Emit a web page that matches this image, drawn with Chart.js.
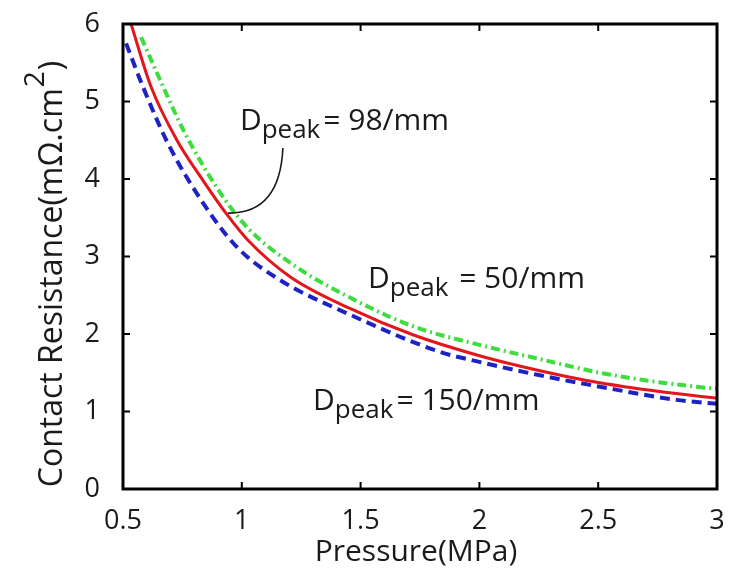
<!DOCTYPE html>
<html lang="en">
<head>
<meta charset="UTF-8">
<title>Contact Resistance vs Pressure</title>
<script src="https://cdn.jsdelivr.net/npm/chart.js"></script>
<style>
  body { margin: 0; background: #fff; }
  #wrap { width: 729px; height: 575px; }
</style>
</head>
<body>
<div id="wrap"><canvas id="chart" width="729" height="575"></canvas></div>
<script>
// pressure (MPa) and contact resistance (mOhm.cm2)
const redX   = [0.534, 0.618, 0.727, 0.837, 0.938, 1.026, 1.203, 1.455, 1.72, 2.0, 2.25, 2.507, 2.75, 3.0];
const redY   = [6.0, 5.19, 4.50, 3.98, 3.54, 3.21, 2.74, 2.33, 1.99, 1.72, 1.53, 1.37, 1.26, 1.17];
const blueX  = [0.513, 0.584, 0.689, 0.837, 0.98, 1.148, 1.455, 1.834, 2.0, 2.25, 2.507, 2.83, 3.0];
const blueY  = [5.75, 5.19, 4.46, 3.69, 3.12, 2.72, 2.25, 1.77, 1.64, 1.47, 1.32, 1.15, 1.10];
const greenX = [0.576, 0.656, 0.761, 0.921, 1.034, 1.232, 1.455, 1.72, 2.0, 2.25, 2.507, 2.75, 3.0];
const greenY = [5.83, 5.28, 4.59, 3.77, 3.34, 2.86, 2.47, 2.10, 1.86, 1.68, 1.50, 1.38, 1.29];

const xTicks = [0.5, 1, 1.5, 2, 2.5, 3];
const xTickLabels = ['0.5', '1', '1.5', '2', '2.5', '3'];
const yTicks = [0, 1, 2, 3, 4, 5, 6];
const yTickLabels = ['0', '1', '2', '3', '4', '5', '6'];

const seriesNames = ['Dpeak = 98/mm', 'Dpeak = 150/mm', 'Dpeak = 50/mm'];

// curve labels, placed in data units
const notes = [
    { rest: '= 98/mm', x: 0.992, y: 4.63 },
    { rest: ' = 50/mm', x: 1.531, y: 2.59 },
    { rest: '= 150/mm', x: 1.30, y: 1.02 }
];
// leader from the 98/mm label to the red curve (start, control, end)
const leader = [[1.173, 4.40], [1.16, 3.55], [0.942, 3.56]];

const FONT = '"Open Sans", "DejaVu Sans", sans-serif';
const INK = '#1a1a1a';

function pts(xs, ys) {
    return xs.map((x, i) => ({ x: x, y: ys[i] }));
}

const framePlugin = {
    id: 'frame',
    afterDatasetsDraw(chart) {
        const { ctx, chartArea: a, scales } = chart;
        const xs = scales.x, ys = scales.y;
        ctx.save();

        // leader line
        ctx.strokeStyle = INK;
        ctx.lineWidth = 1.6;
        ctx.beginPath();
        ctx.moveTo(xs.getPixelForValue(leader[0][0]), ys.getPixelForValue(leader[0][1]));
        ctx.quadraticCurveTo(xs.getPixelForValue(leader[1][0]), ys.getPixelForValue(leader[1][1]),
            xs.getPixelForValue(leader[2][0]), ys.getPixelForValue(leader[2][1]));
        ctx.stroke();

        // box
        ctx.strokeStyle = '#000';
        ctx.lineWidth = 3;
        ctx.strokeRect(a.left, a.top, a.right - a.left, a.bottom - a.top);

        // inward ticks on all sides
        ctx.lineWidth = 2;
        const len = 7;
        ctx.beginPath();
        xTicks.forEach(v => {
            const px = xs.getPixelForValue(v);
            ctx.moveTo(px, a.bottom); ctx.lineTo(px, a.bottom - len);
            ctx.moveTo(px, a.top); ctx.lineTo(px, a.top + len);
        });
        yTicks.forEach(v => {
            const py = ys.getPixelForValue(v);
            ctx.moveTo(a.left, py); ctx.lineTo(a.left + len, py);
            ctx.moveTo(a.right, py); ctx.lineTo(a.right - len, py);
        });
        ctx.stroke();

        // curve labels: D, subscript "peak", then the value
        ctx.fillStyle = INK;
        ctx.textBaseline = 'alphabetic';
        ctx.textAlign = 'left';
        notes.forEach(n => {
            let px = xs.getPixelForValue(n.x);
            const py = ys.getPixelForValue(n.y);
            ctx.font = '30px ' + FONT;
            ctx.fillText('D', px, py);
            px += ctx.measureText('D').width;
            ctx.font = '26px ' + FONT;
            ctx.fillText('peak', px, py + 8);
            px += ctx.measureText('peak').width + 3;
            ctx.font = '30px ' + FONT;
            ctx.fillText(n.rest, px, py);
        });

        // axis titles
        ctx.font = '30px ' + FONT;
        ctx.textAlign = 'center';
        ctx.fillText('Pressure(MPa)', 416, 561);

        ctx.translate(62, 274);
        ctx.rotate(-Math.PI / 2);
        ctx.textAlign = 'left';
        const main = 'Contact Resistance(mΩ.cm';
        ctx.font = '32px ' + FONT;
        const w1 = ctx.measureText(main).width;
        const w3 = ctx.measureText(')').width;
        ctx.font = '28px ' + FONT;
        const w2 = ctx.measureText('2').width;
        let sx = -(w1 + w2 + w3 + 2) / 2;
        ctx.font = '32px ' + FONT;
        ctx.fillText(main, sx, 0);
        ctx.font = '28px ' + FONT;
        ctx.fillText('2', sx + w1 + 1, -18);
        ctx.font = '32px ' + FONT;
        ctx.fillText(')', sx + w1 + w2 + 2, 0);
        ctx.restore();
    }
};

new Chart(document.getElementById('chart'), {
    type: 'line',
    data: {
        datasets: [
            {
                label: seriesNames[0],
                data: pts(redX, redY),
                borderColor: '#e3161b',
                borderWidth: 3,
                pointRadius: 0,
                cubicInterpolationMode: 'monotone'
            },
            {
                label: seriesNames[1],
                data: pts(blueX, blueY),
                borderColor: '#1d22c4',
                borderWidth: 4,
                borderDash: [10, 6],
                pointRadius: 0,
                cubicInterpolationMode: 'monotone'
            },
            {
                label: seriesNames[2],
                data: pts(greenX, greenY),
                borderColor: '#3fdc3f',
                borderWidth: 4,
                borderDash: [9, 4, 2, 4],
                pointRadius: 0,
                cubicInterpolationMode: 'monotone'
            }
        ]
    },
    options: {
        responsive: false,
        animation: false,
        layout: { padding: { top: 24, right: 12, left: 0, bottom: 0 } },
        plugins: { legend: { display: false }, tooltip: { enabled: false } },
        scales: {
            x: {
                type: 'linear',
                min: 0.5,
                max: 3,
                afterBuildTicks: s => { s.ticks = xTicks.map(v => ({ value: v })); },
                afterFit: s => { s.height = 86; s.paddingLeft = 0; s.paddingRight = 0; },
                grid: { display: false, drawTicks: false },
                border: { display: false },
                ticks: {
                    padding: 16,
                    color: INK,
                    font: { size: 27, family: FONT },
                    callback: (v) => xTickLabels[xTicks.indexOf(v)]
                }
            },
            y: {
                type: 'linear',
                min: 0,
                max: 6,
                afterBuildTicks: s => { s.ticks = yTicks.map(v => ({ value: v })); },
                afterFit: s => { s.width = 123; s.paddingTop = 0; s.paddingBottom = 0; },
                grid: { display: false, drawTicks: false },
                border: { display: false },
                ticks: {
                    padding: 23,
                    color: INK,
                    font: { size: 27, family: FONT },
                    callback: (v) => yTickLabels[yTicks.indexOf(v)]
                }
            }
        }
    },
    plugins: [framePlugin]
});
</script>
</body>
</html>
